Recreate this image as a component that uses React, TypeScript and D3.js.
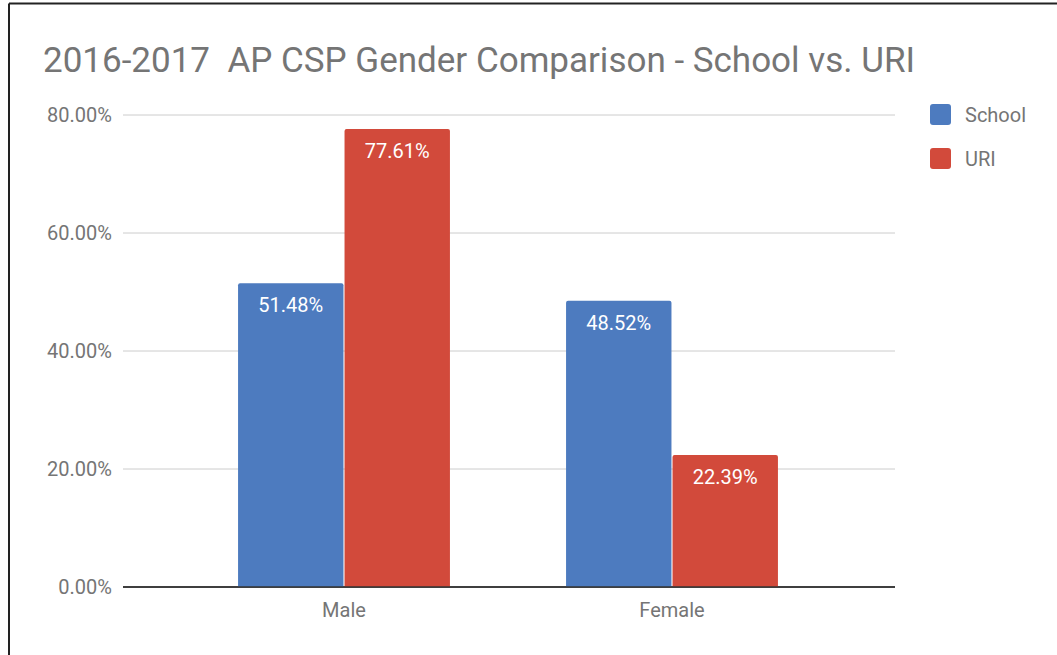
import React from "react";
import * as d3 from "d3";

const categories = ["Male", "Female"];
const seriesNames = ["School", "URI"];
const schoolValues = [51.48, 48.52];
const uriValues = [77.61, 22.39];
const yTicks = [0, 20, 40, 60, 80];
const colors = ["#4d7bbf", "#d24a3b"];
const title = "2016-2017  AP CSP Gender Comparison - School vs. URI";

const W = 1057;
const H = 655;
const FONT = "Roboto, 'Noto Sans', sans-serif";

export default function App() {
  const y = d3.scaleLinear().domain([0, 80]).range([587, 115]);
  const x = d3.scaleBand<string>().domain(categories).range([180, 836]).paddingInner(0.354).paddingOuter(0.177);
  const x1 = d3.scaleBand<string>().domain(seriesNames).range([0, x.bandwidth()]).paddingInner(0.01);
  const series = [schoolValues, uriValues];
  const fmt = (v: number) => v.toFixed(2) + "%";

  const barPath = (x0: number, y0: number, w: number, h: number, r: number) =>
    `M${x0},${y0 + h}V${y0 + r}Q${x0},${y0} ${x0 + r},${y0}H${x0 + w - r}Q${x0 + w},${y0} ${x0 + w},${y0 + r}V${y0 + h}Z`;

  return (
    <svg width={W} height={H} style={{ position: "absolute", left: 0, top: 0, background: "#fff" }} fontFamily={FONT}>
      <rect x={0} y={0} width={W} height={H} fill="#fff" />
      <line x1={9} y1={3.5} x2={W} y2={3.5} stroke="#222" strokeWidth={2} />
      <line x1={9} y1={3.5} x2={9} y2={H} stroke="#222" strokeWidth={2} />
      <text x={43} y={72} fontSize={35} fill="#757575" style={{ whiteSpace: "pre" }}>{title}</text>
      {yTicks.map((t) => (
        <g key={t}>
          <line x1={123} x2={895} y1={y(t)} y2={y(t)} stroke={t === 0 ? "#333" : "#ccc"} strokeWidth={t === 0 ? 1.5 : 1} />
          <text x={112} y={y(t)} dy="0.35em" textAnchor="end" fontSize={20} fill="#757575">{fmt(t)}</text>
        </g>
      ))}
      {categories.map((c, ci) => (
        <g key={c} transform={`translate(${x(c)},0)`}>
          {seriesNames.map((s, si) => {
            const v = series[si][ci];
            const bx = x1(s)!;
            const bw = x1.bandwidth();
            const top = y(v);
            return (
              <g key={s}>
                <path d={barPath(bx, top, bw, y(0) - top, 2)} fill={colors[si]} />
                <text x={bx + bw / 2} y={top + 22} dy="0.35em" textAnchor="middle" fontSize={20} fill="#fff">{fmt(v)}</text>
              </g>
            );
          })}
          <text x={x.bandwidth() / 2} y={610} dy="0.35em" textAnchor="middle" fontSize={20} fill="#757575">{c}</text>
        </g>
      ))}
      <line x1={123} x2={895} y1={y(0)} y2={y(0)} stroke="#333" strokeWidth={1.5} />
      {seriesNames.map((s, i) => (
        <g key={s} transform={`translate(930,${104 + i * 44})`}>
          <rect x={0} y={0} width={21} height={21} rx={3} fill={colors[i]} />
          <text x={35} y={11} dy="0.35em" fontSize={20} fill="#757575">{s}</text>
        </g>
      ))}
    </svg>
  );
}
